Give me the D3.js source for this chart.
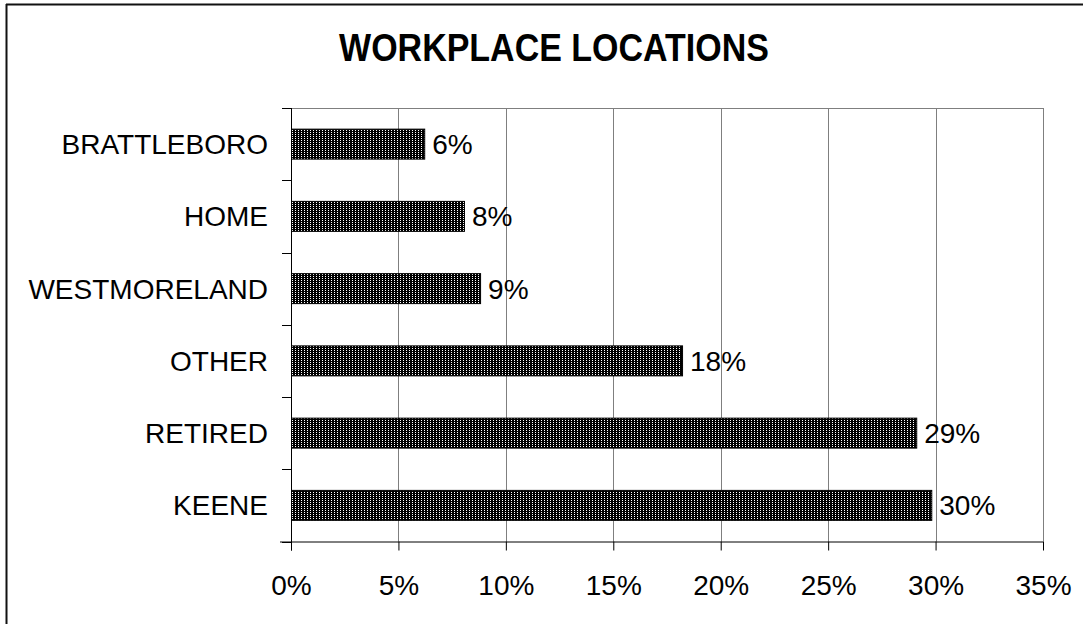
<!DOCTYPE html>
<html>
<head>
<meta charset="utf-8">
<script src="https://cdn.jsdelivr.net/npm/d3@7"></script>
<style>
  html, body { margin: 0; padding: 0; background: #fff; }
  svg { display: block; }
</style>
</head>
<body>
<script>
const categories = ["BRATTLEBORO", "HOME", "WESTMORELAND", "OTHER", "RETIRED", "KEENE"];
const values = [6.2, 8.05, 8.8, 18.2, 29.1, 29.8];
const valueLabels = ["6%", "8%", "9%", "18%", "29%", "30%"];
const tickValues = [0, 5, 10, 15, 20, 25, 30, 35];
const title = "WORKPLACE LOCATIONS";

const W = 1083, H = 624;
const plot = { left: 291, right: 1043, top: 108, bottom: 541.5 };

const svg = d3.select("body").append("svg")
  .attr("width", W).attr("height", H)
  .style("font-family", "'Liberation Sans', Arial, sans-serif");

// pattern
const defs = svg.append("defs");
const pat = defs.append("pattern")
  .attr("id", "dots").attr("patternUnits", "userSpaceOnUse")
  .attr("width", 3).attr("height", 2);
pat.append("rect").attr("width", 3).attr("height", 2).attr("fill", "#000");
pat.append("rect").attr("x", 1).attr("y", 0).attr("width", 1).attr("height", 1).attr("fill", "#fff");

// outer frame (top & left only visible)
svg.append("line").attr("x1", 6).attr("x2", W).attr("y1", 4.5).attr("y2", 4.5)
  .attr("stroke", "#111").attr("stroke-width", 2);
svg.append("line").attr("x1", 6.5).attr("x2", 6.5).attr("y1", 4).attr("y2", H)
  .attr("stroke", "#111").attr("stroke-width", 2);

// title
svg.append("text").attr("x", 554).attr("y", 61)
  .attr("text-anchor", "middle")
  .attr("font-weight", "bold").attr("font-size", 34)
  .attr("transform", "translate(0,61) scale(1,1.12) translate(0,-61)")
  .text(title);

const x = d3.scaleLinear().domain([0, 35]).range([plot.left, plot.right]);
const y = d3.scaleBand().domain(categories).range([plot.top, plot.bottom]).paddingInner(0.585).paddingOuter(0.2925);
const yOuter = d3.scaleBand().domain(categories).range([plot.top, plot.bottom]);

// gridlines
svg.append("g").selectAll("line").data(tickValues.slice(1)).join("line")
  .attr("x1", d => Math.round(x(d)) + 0.5).attr("x2", d => Math.round(x(d)) + 0.5)
  .attr("y1", plot.top).attr("y2", plot.bottom)
  .attr("stroke", "#7f7f7f").attr("stroke-width", 1);
svg.append("line").attr("x1", plot.left).attr("x2", plot.right).attr("y1", plot.top + 0.5).attr("y2", plot.top + 0.5)
  .attr("stroke", "#7f7f7f");

// bars
svg.append("g").selectAll("rect").data(categories).join("rect")
  .attr("x", plot.left + 0.5)
  .attr("y", d => y(d))
  .attr("width", (d, i) => x(values[i]) - plot.left)
  .attr("height", y.bandwidth())
  .attr("fill", "url(#dots)")
  .attr("stroke", "#000").attr("stroke-width", 1);

// value labels
svg.append("g").selectAll("text").data(categories).join("text")
  .attr("x", (d, i) => x(values[i]) + 8)
  .attr("y", d => y(d) + y.bandwidth() / 2 + 10)
  .attr("font-size", 28)
  .text((d, i) => valueLabels[i]);

// x axis
const xAxis = d3.axisBottom(x).tickValues(tickValues).tickSize(9).tickPadding(0).tickFormat(d => d + "%");
const gx = svg.append("g").attr("transform", `translate(0,${plot.bottom})`).call(xAxis);
gx.select(".domain").attr("stroke", "#000").attr("d", `M${plot.left - 11},0.5H${plot.right}`);
gx.selectAll(".tick line").attr("stroke", "#000");
gx.selectAll(".tick text").attr("font-size", 28).attr("font-family", "'Liberation Sans', Arial, sans-serif")
  .attr("fill", "#000").attr("dy", 0).attr("y", 53);

// y axis
const gy = svg.append("g").attr("transform", `translate(${plot.left},0)`);
gy.append("line").attr("x1", 0.5).attr("x2", 0.5).attr("y1", plot.top).attr("y2", plot.bottom + 9).attr("stroke", "#000");
const bounds = [plot.top].concat(categories.map(c => yOuter(c) + yOuter.bandwidth()));
gy.selectAll("line.tk").data(bounds).join("line").attr("class", "tk")
  .attr("x1", -9).attr("x2", 0).attr("y1", d => Math.round(d) + 0.5).attr("y2", d => Math.round(d) + 0.5)
  .attr("stroke", "#000");
gy.selectAll("text").data(categories).join("text")
  .attr("x", -23)
  .attr("y", d => yOuter(d) + yOuter.bandwidth() / 2 + 10)
  .attr("text-anchor", "end").attr("font-size", 28)
  .text(d => d);
</script>
</body>
</html>
